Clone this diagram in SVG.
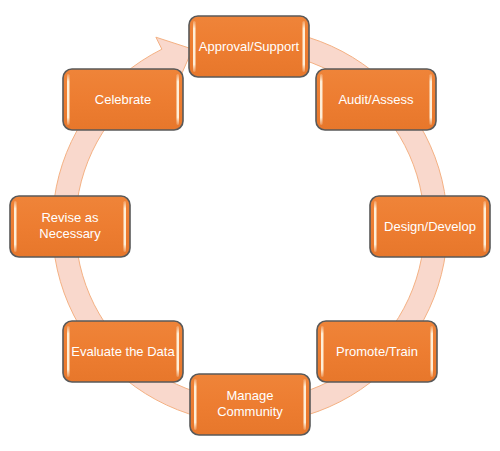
<svg xmlns="http://www.w3.org/2000/svg" width="500" height="451" viewBox="0 0 500 451">
<defs>
<linearGradient id="og" x1="0" y1="0" x2="0" y2="1">
<stop offset="0" stop-color="#EF8439"/>
<stop offset="0.5" stop-color="#ED7D31"/>
<stop offset="1" stop-color="#E7772B"/>
</linearGradient>
<linearGradient id="hl" x1="0" y1="0" x2="0" y2="1">
<stop offset="0" stop-color="#FFF4E0" stop-opacity="0.2"/>
<stop offset="0.15" stop-color="#FFF4E0" stop-opacity="0.95"/>
<stop offset="0.85" stop-color="#FFF4E0" stop-opacity="0.95"/>
<stop offset="1" stop-color="#FFF4E0" stop-opacity="0.2"/>
</linearGradient>
</defs>
<style>
.box{fill:url(#og);stroke:#595959;stroke-width:1.6}
.hl{fill:url(#hl)}
.t{font-family:"Liberation Sans","Open Sans",sans-serif;font-size:13px;fill:#FFFFFF;text-anchor:middle}
.ring{fill:#F9D8CC;stroke:#F4B183;stroke-width:1}
</style>
<g id="connectors">
<path class="ring" d="M250,28.5 A197.5,197.5 0 1 1 161.9,49.2 L155.9,37.2 L192.5,49.1 L178.2,81.9 L172.2,69.8 A174.5,174.5 0 1 0 250,51.5 Z"/>
</g>
<g id="approval">
<rect class="box" x="189" y="16" width="120" height="61" rx="9"/>
<rect class="hl" x="193" y="21" width="2.5" height="51" rx="1.2"/>
<rect class="hl" x="302.5" y="21" width="2.5" height="51" rx="1.2"/>
<text class="t" x="249" y="51">Approval/Support</text>
</g>
<g id="audit">
<rect class="box" x="316" y="69" width="120" height="61" rx="9"/>
<rect class="hl" x="320" y="74" width="2.5" height="51" rx="1.2"/>
<rect class="hl" x="429.5" y="74" width="2.5" height="51" rx="1.2"/>
<text class="t" x="376" y="104">Audit/Assess</text>
</g>
<g id="design">
<rect class="box" x="370" y="196" width="120" height="61" rx="9"/>
<rect class="hl" x="374" y="201" width="2.5" height="51" rx="1.2"/>
<rect class="hl" x="483.5" y="201" width="2.5" height="51" rx="1.2"/>
<text class="t" x="430" y="231">Design/Develop</text>
</g>
<g id="promote">
<rect class="box" x="317" y="321" width="120" height="61" rx="9"/>
<rect class="hl" x="321" y="326" width="2.5" height="51" rx="1.2"/>
<rect class="hl" x="430.5" y="326" width="2.5" height="51" rx="1.2"/>
<text class="t" x="377" y="356">Promote/Train</text>
</g>
<g id="manage">
<rect class="box" x="190" y="374" width="120" height="61" rx="9"/>
<rect class="hl" x="194" y="379" width="2.5" height="51" rx="1.2"/>
<rect class="hl" x="303.5" y="379" width="2.5" height="51" rx="1.2"/>
<text class="t" x="250" y="400">Manage</text>
<text class="t" x="250" y="416">Community</text>
</g>
<g id="evaluate">
<rect class="box" x="63" y="321" width="120" height="61" rx="9"/>
<rect class="hl" x="67" y="326" width="2.5" height="51" rx="1.2"/>
<rect class="hl" x="176.5" y="326" width="2.5" height="51" rx="1.2"/>
<text class="t" x="123" y="356">Evaluate the Data</text>
</g>
<g id="revise">
<rect class="box" x="10" y="196" width="120" height="61" rx="9"/>
<rect class="hl" x="14" y="201" width="2.5" height="51" rx="1.2"/>
<rect class="hl" x="123.5" y="201" width="2.5" height="51" rx="1.2"/>
<text class="t" x="70" y="222">Revise as</text>
<text class="t" x="70" y="238">Necessary</text>
</g>
<g id="celebrate">
<rect class="box" x="63" y="69" width="120" height="61" rx="9"/>
<rect class="hl" x="67" y="74" width="2.5" height="51" rx="1.2"/>
<rect class="hl" x="176.5" y="74" width="2.5" height="51" rx="1.2"/>
<text class="t" x="123" y="104">Celebrate</text>
</g>
</svg>
